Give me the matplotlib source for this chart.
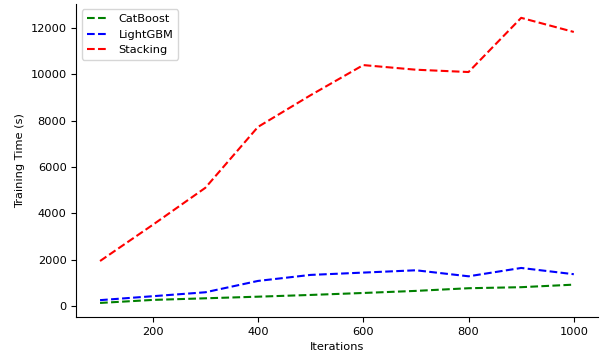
import matplotlib
matplotlib.use("Agg")
import matplotlib.pyplot as plt

iterations = [100, 200, 300, 400, 500, 600, 700, 800, 900, 1000]
catboost = [130, 260, 330, 400, 475, 560, 650, 765, 810, 920]
lightgbm = [250, 420, 590, 1080, 1340, 1440, 1540, 1280, 1640, 1370]
stacking = [1940, 3500, 5100, 7730, 9100, 10400, 10200, 10100, 12440, 11830]

plt.rcParams["font.size"] = 8.2

fig, ax = plt.subplots(figsize=(6.06, 3.58), dpi=100)
ax.plot(iterations, catboost, "--", color="green", label="CatBoost")
ax.plot(iterations, lightgbm, "--", color="blue", label="LightGBM")
ax.plot(iterations, stacking, "--", color="red", label="Stacking")
ax.set_xlabel("Iterations")
ax.set_ylabel("Training Time (s)")
ax.spines["top"].set_visible(False)
ax.spines["right"].set_visible(False)
ax.legend(loc="upper left")
fig.subplots_adjust(left=0.126, right=0.986, top=0.99, bottom=0.114)
fig.savefig("out.png", dpi=100)
